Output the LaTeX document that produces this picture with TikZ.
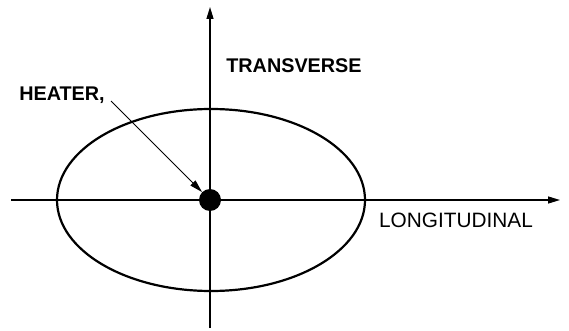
\documentclass[tikz,border=0pt]{standalone}
\usepackage{fontspec}
\setmainfont{Liberation Sans}
\usetikzlibrary{arrows.meta}
\begin{document}
\begin{tikzpicture}[x=1pt,y=-1pt,
  axis/.style={line width=1.3pt,-{Triangle[length=12pt,width=7pt]}},
  lbl/.style={inner sep=0pt,anchor=center},
  ell/.style={line width=2.2pt}]
\useasboundingbox (0,0) rectangle (569,331);
\coordinate (xl) at (11,200);
\coordinate (xr) at (560,200);
\coordinate (yb) at (210,328);
\coordinate (yt) at (210,7);
\draw[axis] (xl) -- (xr);
\draw[axis] (yb) -- (yt);
\draw[ell] (211,200) ellipse [x radius=154, y radius=91];
\node[circle,fill=black,minimum size=22pt,inner sep=0pt] (heater) at (210,200) {};
\node[lbl,font=\fontsize{19.8}{20}\selectfont\bfseries] (ht) at (62,95) {HEATER,};
\node[lbl,font=\fontsize{19.8}{20}\selectfont\bfseries] (tr) at (294,66) {TRANSVERSE};
\node[lbl,font=\fontsize{20.8}{21}\selectfont] (lo) at (456,220) {LONGITUDINAL};
\coordinate (hs) at (111,101);
\draw[line width=1pt,-{Triangle[length=13pt,width=7pt]}] (hs) -- (heater);
\end{tikzpicture}
\end{document}
